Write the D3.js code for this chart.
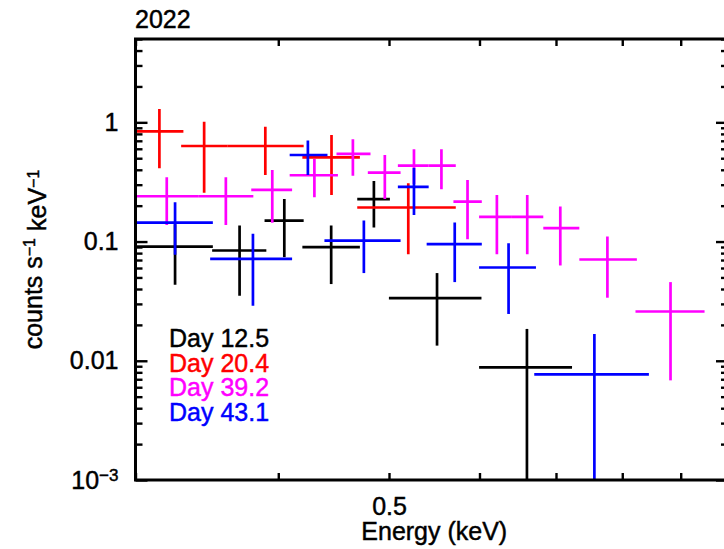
<!DOCTYPE html>
<html>
<head>
<meta charset="utf-8">
<script src="https://cdn.jsdelivr.net/npm/d3@7"></script>
<style>
  html, body { margin: 0; padding: 0; background: #fff; overflow: hidden; }
  text { font-family: "Liberation Sans", Arial, Helvetica, sans-serif; }
</style>
</head>
<body>
<svg id="chart" width="724" height="549"></svg>
<script>
// Each row: [energy, energyLo, energyHi, rate, rateLo, rateHi]
// energy in keV, rate in counts s^-1 keV^-1
const day12_5 = [
  [0.3249, 0.3000, 0.3506, 0.0908, 0.0434, 0.140],
  [0.3700, 0.3501, 0.3905, 0.0841, 0.0351, 0.1361],
  [0.4049, 0.3891, 0.4210, 0.1499, 0.0740, 0.2278],
  [0.4450, 0.4199, 0.4715, 0.0898, 0.0440, 0.1361],
  [0.4850, 0.4690, 0.5009, 0.2265, 0.1310, 0.3225],
  [0.5508, 0.4999, 0.6024, 0.0336, 0.0134, 0.0544],
  [0.6602, 0.5995, 0.7230, 0.0088, 0.0002, 0.0185]
];
const day20_4 = [
  [0.3148, 0.3000, 0.3304, 0.841, 0.412, 1.292],
  [0.3445, 0.3289, 0.3609, 0.633, 0.257, 1.012],
  [0.3897, 0.3609, 0.4210, 0.633, 0.362, 0.919],
  [0.4453, 0.4199, 0.4715, 0.509, 0.246, 0.783],
  [0.5198, 0.4690, 0.5720, 0.193, 0.0784, 0.308]
];
const day39_2 = [
  [0.3195, 0.3000, 0.3404, 0.240, 0.138, 0.346],
  [0.3599, 0.3404, 0.3804, 0.240, 0.138, 0.346],
  [0.3952, 0.3788, 0.4113, 0.271, 0.144, 0.399],
  [0.4302, 0.4093, 0.4511, 0.360, 0.235, 0.493],
  [0.4649, 0.4498, 0.4817, 0.543, 0.357, 0.720],
  [0.4958, 0.4791, 0.5118, 0.378, 0.228, 0.532],
  [0.5258, 0.5090, 0.5416, 0.433, 0.304, 0.594],
  [0.5557, 0.5416, 0.5720, 0.433, 0.275, 0.594],
  [0.5857, 0.5693, 0.6028, 0.216, 0.1047, 0.329],
  [0.6214, 0.5995, 0.6405, 0.161, 0.0784, 0.246],
  [0.6606, 0.6405, 0.6823, 0.161, 0.0784, 0.246],
  [0.7061, 0.6823, 0.7337, 0.1295, 0.0630, 0.1964],
  [0.7764, 0.7337, 0.8239, 0.0707, 0.0338, 0.1101],
  [0.8817, 0.8216, 0.9443, 0.0259, 0.00685, 0.0457]
];
const day43_1 = [
  [0.3249, 0.3000, 0.3506, 0.1442, 0.0774, 0.2138],
  [0.3801, 0.3487, 0.4113, 0.0716, 0.0289, 0.1160],
  [0.4246, 0.4093, 0.4417, 0.532, 0.362, 0.704],
  [0.4753, 0.4390, 0.5118, 0.102, 0.0544, 0.1499],
  [0.5258, 0.5090, 0.5416, 0.287, 0.1673, 0.414],
  [0.5708, 0.5394, 0.6028, 0.0951, 0.0457, 0.1442],
  [0.6362, 0.5995, 0.6723, 0.0606, 0.0247, 0.0970],
  [0.7563, 0.6700, 0.8441, 0.00769, 0.0002, 0.01677]
];

const seriesNames = ["Day 12.5", "Day 20.4", "Day 39.2", "Day 43.1"];
const seriesColors = ["#000000", "#ff0000", "#ff00ff", "#0000ff"];
const seriesData = [day12_5, day20_4, day39_2, day43_1];

const xDomain = [0.3, 1.0];
const yDomain = [1e-3, 5];
const xMajorTicks = [0.5];
const xTickLabels = ["0.5"];
const xMinorTicks = [0.3, 0.4, 0.6, 0.7, 0.8, 0.9, 1.0];
const yMajorTicks = [1e-3, 0.01, 0.1, 1];
const yTickLabels = ["10^−3", "0.01", "0.1", "1"];
const titleText = "2022";
const xLabel = "Energy (keV)";

const svg = d3.select("#chart");
svg.append("rect").attr("width", 724).attr("height", 549).attr("fill", "#fff");

const frame = { left: 135.5, right: 733, top: 39, bottom: 480 };
const x = d3.scaleLog().domain(xDomain).range([frame.left, frame.right]);
const y = d3.scaleLog().domain(yDomain).range([frame.bottom, frame.top]);

const fontSize = 25;
const textStroke = 0.45;

// clip for data
svg.append("defs").append("clipPath").attr("id", "plotClip")
  .append("rect").attr("x", frame.left).attr("y", frame.top)
  .attr("width", frame.right - frame.left).attr("height", frame.bottom - frame.top);

const plot = svg.append("g").attr("clip-path", "url(#plotClip)");

seriesData.forEach((rows, i) => {
  const g = plot.append("g")
    .attr("stroke", seriesColors[i])
    .attr("stroke-width", 2.7)
    .attr("fill", "none");
  g.selectAll("line.h").data(rows).join("line").attr("class", "h")
    .attr("x1", d => x(d[1])).attr("x2", d => x(d[2]))
    .attr("y1", d => y(d[3])).attr("y2", d => y(d[3]));
  g.selectAll("line.v").data(rows).join("line").attr("class", "v")
    .attr("x1", d => x(d[0])).attr("x2", d => x(d[0]))
    .attr("y1", d => y(d[4])).attr("y2", d => y(d[5]));
});

// axes: ticks point into the frame on all four sides
function styleAxis(g) {
  g.select(".domain").remove();
  g.selectAll(".tick line").attr("stroke", "#000").attr("stroke-width", 2.4);
  g.selectAll("text").attr("fill", "#000")
    .attr("stroke", "#000").attr("stroke-width", textStroke)
    .style("font-family", '"Liberation Sans", Arial, Helvetica, sans-serif')
    .style("font-size", fontSize + "px");
}

const yMinor = y.ticks().filter(v => !yMajorTicks.some(m => Math.abs(m - v) / m < 1e-6));

// left
svg.append("g").attr("transform", `translate(${frame.left},0)`)
  .call(d3.axisLeft(y).tickValues(yMinor).tickSize(-7).tickFormat(""))
  .call(styleAxis);
const leftMajor = svg.append("g").attr("transform", `translate(${frame.left},0)`)
  .call(d3.axisLeft(y).tickValues(yMajorTicks).tickSize(-12).tickPadding(17)
    .tickFormat((d, i) => yTickLabels[i]))
  .call(styleAxis);
leftMajor.selectAll(".tick text").each(function (d, i) {
  const label = yTickLabels[i];
  if (label.includes("^")) {
    const [base, exp] = label.split("^");
    const t = d3.select(this).text(null);
    t.append("tspan").text(base);
    t.append("tspan").attr("dy", "-0.42em").style("font-size", "17px").text(exp);
  }
});

// right
svg.append("g").attr("transform", `translate(${frame.right},0)`)
  .call(d3.axisRight(y).tickValues(yMinor).tickSize(-12).tickFormat(""))
  .call(styleAxis);
svg.append("g").attr("transform", `translate(${frame.right},0)`)
  .call(d3.axisRight(y).tickValues(yMajorTicks).tickSize(-17).tickFormat(""))
  .call(styleAxis);

// bottom
svg.append("g").attr("transform", `translate(0,${frame.bottom})`)
  .call(d3.axisBottom(x).tickValues(xMinorTicks).tickSize(-7).tickFormat(""))
  .call(styleAxis);
svg.append("g").attr("transform", `translate(0,${frame.bottom})`)
  .call(d3.axisBottom(x).tickValues(xMajorTicks).tickSize(-7).tickPadding(17)
    .tickFormat((d, i) => xTickLabels[i]))
  .call(styleAxis);

// top
svg.append("g").attr("transform", `translate(0,${frame.top})`)
  .call(d3.axisTop(x).tickValues(xMinorTicks.concat(xMajorTicks)).tickSize(-7).tickFormat(""))
  .call(styleAxis);

// frame
svg.append("rect")
  .attr("x", frame.left).attr("y", frame.top)
  .attr("width", frame.right - frame.left).attr("height", frame.bottom - frame.top)
  .attr("fill", "none").attr("stroke", "#000").attr("stroke-width", 3);

// title
svg.append("text").attr("x", 135).attr("y", 28)
  .attr("stroke", "#000").attr("stroke-width", textStroke)
  .style("font-size", fontSize + "px").text(titleText);

// x label
svg.append("text").attr("x", (frame.left + frame.right) / 2).attr("y", 540)
  .attr("text-anchor", "middle")
  .attr("stroke", "#000").attr("stroke-width", textStroke)
  .style("font-size", fontSize + "px").text(xLabel);

// y label
const yl = svg.append("text")
  .attr("transform", `translate(42,${(frame.top + frame.bottom) / 2}) rotate(-90)`)
  .attr("text-anchor", "middle")
  .attr("stroke", "#000").attr("stroke-width", textStroke)
  .style("font-size", fontSize + "px");
yl.append("tspan").text("counts s");
yl.append("tspan").attr("dy", "-0.42em").style("font-size", "16px").text("−1");
yl.append("tspan").attr("dy", "0.42em").text(" keV");
yl.append("tspan").attr("dy", "-0.42em").style("font-size", "16px").text("−1");

// legend
const legend = svg.append("g");
seriesNames.forEach((name, i) => {
  legend.append("text")
    .attr("x", 169).attr("y", 347 + i * 24.7)
    .attr("fill", seriesColors[i])
    .attr("stroke", seriesColors[i]).attr("stroke-width", textStroke)
    .style("font-size", fontSize + "px")
    .text(name);
});
</script>
</body>
</html>
